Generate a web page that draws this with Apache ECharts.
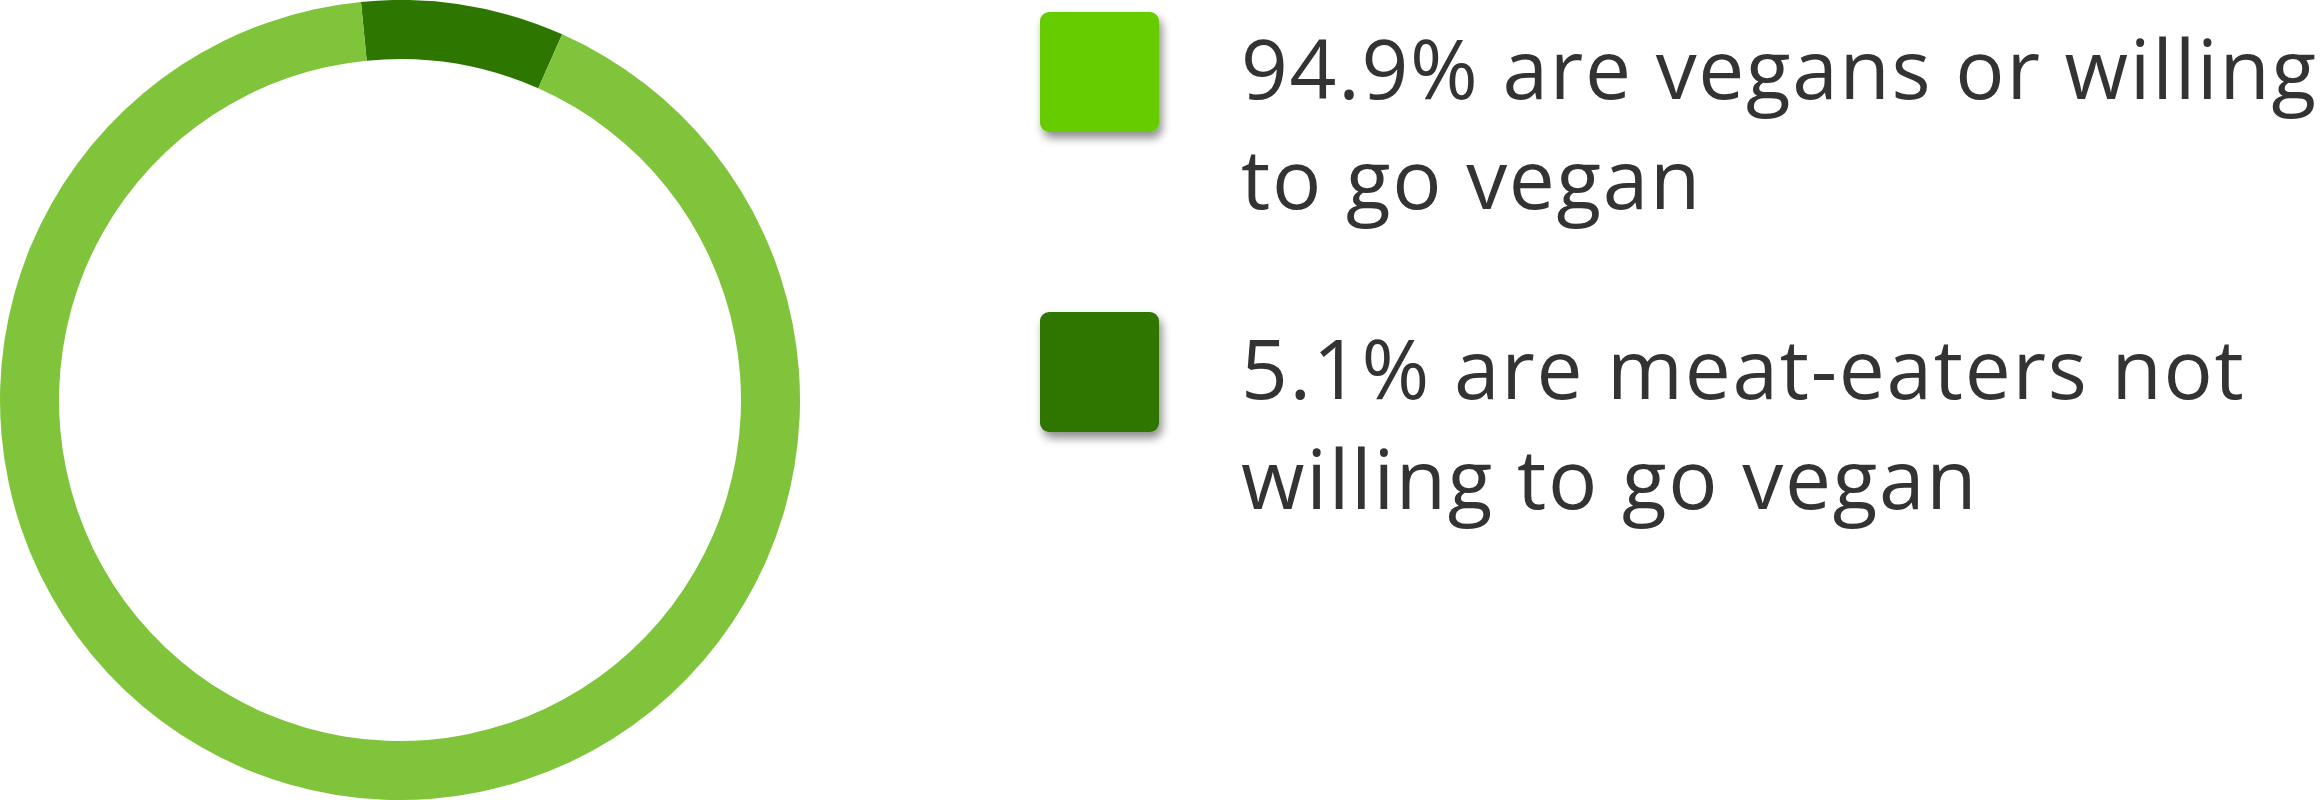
<!DOCTYPE html>
<html>
<head>
<meta charset="utf-8">
<style>
  html, body { margin: 0; padding: 0; background: #ffffff; }
  #chart { width: 2322px; height: 800px; }
  #chart text { letter-spacing: 1.7px; }
</style>
<script src="https://cdn.jsdelivr.net/npm/echarts@6/dist/echarts.min.js"></script>
</head>
<body>
<div id="chart"></div>
<script>
// Categories and values (slice shares as drawn in the ring)
const categories = ['meat-eaters not willing', 'vegans or willing'];
const sliceValues = [8.2, 91.8];
const sliceColors = ['#2d7600', '#7fc43a'];

// Legend text, line by line
const legendLines = [
  ['94.9% are vegans or willing', 'to go vegan'],
  ['5.1% are meat-eaters not', 'willing to go vegan']
];
const legendColors = ['#66cc00', '#2d7600'];

const chart = echarts.init(document.getElementById('chart'), null, { renderer: 'svg' });

const legendTops = [12, 312];
const graphics = [];
legendLines.forEach(function (lines, i) {
  const top = legendTops[i];
  graphics.push({
    type: 'rect',
    shape: { x: 1040, y: top, width: 119, height: 120, r: 9 },
    style: {
      fill: legendColors[i],
      shadowBlur: 10,
      shadowOffsetX: 3,
      shadowOffsetY: 6,
      shadowColor: 'rgba(0,0,0,0.45)'
    }
  });
  lines.forEach(function (line, j) {
    graphics.push({
      type: 'text',
      x: 1241,
      y: top + 55 + j * 110,
      style: {
        text: line,
        fill: '#333333',
        font: '82px "Open Sans"',
        verticalAlign: 'middle',
        align: 'left'
      }
    });
  });
});

chart.setOption({
  backgroundColor: '#ffffff',
  animation: false,
  series: [{
    type: 'pie',
    center: [400, 400],
    radius: [341, 400],
    startAngle: 95.6,
    clockwise: true,
    label: { show: false },
    labelLine: { show: false },
    silent: true,
    itemStyle: { borderWidth: 0 },
    data: categories.map(function (c, i) {
      return { name: c, value: sliceValues[i], itemStyle: { color: sliceColors[i] } };
    })
  }],
  graphic: graphics
});
</script>
</body>
</html>
